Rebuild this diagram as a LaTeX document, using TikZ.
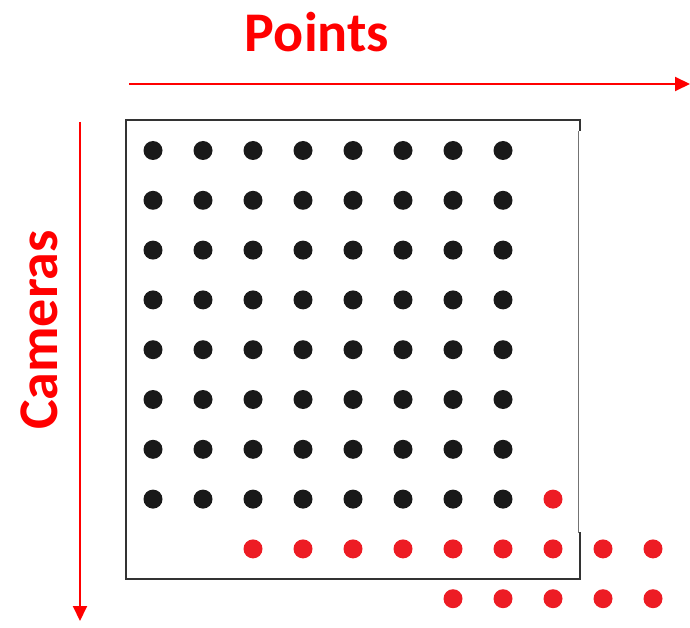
\documentclass[tikz,border=0pt]{standalone}
\usepackage{fontspec}
\setmainfont{Carlito}
\usetikzlibrary{arrows.meta}
\definecolor{ptred}{RGB}{237,28,36}
\definecolor{axred}{RGB}{255,0,0}
\tikzset{
  axis/.style={axred, line width=2pt, -{Triangle[length=15pt,width=14pt]}},
  lbl/.style={axred, font=\fontsize{56}{60}\selectfont\bfseries, inner sep=0pt},
}
\begin{document}
\begin{tikzpicture}[x=1pt,y=-1pt]
    \useasboundingbox (0,0) rectangle (690,628);

    % 矩阵边框
    \draw[line width=2pt, black!80] (580,120) -- (126,120) -- (126,579) -- (580,579) -- (580,532);
    \draw[line width=2pt, black!80] (580,119) -- (580,131);
    \draw[line width=1pt, black!55] (578,131) -- (578,533);

    % 点
    \foreach \i in {0,...,9} {
        \foreach \j in {0,...,10} {
            \pgfmathtruncatemacro{\kind}{(\i<8 && \j<8) ? 1 : ((\i==7 && \j==8) || (\i==8 && \j>1) || (\i==9 && \j>5) ? 2 : 0)}
            \ifnum\kind=1
                \fill[black!90] (153+50*\j, 150.5+49.8*\i) circle[radius=9.5];
            \fi
            \ifnum\kind=2
                \fill[ptred] (153+50*\j, 150.5+49.8*\i) circle[radius=9.5];
            \fi
        }
    }

    % 坐标轴
    \coordinate (ptsA) at (129,84);
    \coordinate (ptsB) at (690,84);
    \coordinate (camA) at (80,122);
    \coordinate (camB) at (80,621);
    \draw[axis] (ptsA) -- (ptsB);
    \draw[axis] (camA) -- (camB);

    % 标签
    \node[lbl] (pts) at (317,32) {Points};
    \node[lbl, rotate=90] (cams) at (39,330) {Cameras};
\end{tikzpicture}
\end{document}
